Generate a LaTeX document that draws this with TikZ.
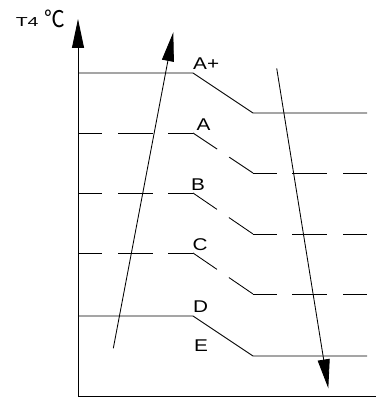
\documentclass[tikz,border=0pt]{standalone}
\usepackage{fontspec}
\setmainfont{Liberation Sans}
\newfontfamily\cjkfont{Noto Sans CJK SC}
\usetikzlibrary{arrows.meta}
\begin{document}
\begin{tikzpicture}[x=1pt,y=-1pt,
  ln/.style={line width=0.85pt,black},
  leftdash/.style={ln,dash pattern=on 24pt off 16pt on 35pt off 15pt on 25pt off 20pt},
  diagdash/.style={ln,dash pattern=on 29pt off 14.5pt on 29pt off 20pt},
  rightdash/.style={ln,dash pattern=on 24pt off 15pt on 35pt off 16pt on 24pt off 20pt},
  bigtip/.style={-{Triangle[length=29pt,width=12pt]}},
  lbl/.style={inner sep=0pt,anchor=base west,font=\fontsize{17}{17}\selectfont,xscale=1.22}]
\useasboundingbox (0,0) rectangle (376,398);
% axes
\coordinate (O) at (78,397);
\coordinate (Ytop) at (78,19);
\coordinate (Xend) at (376,396.5);
\draw[ln,bigtip] (O) -- (Ytop);
\draw[ln] (78,396.5) -- (Xend);
\node[inner sep=0pt,anchor=base west,font=\fontsize{13}{13}\selectfont,xscale=1.5] (T4) at (15.5,26.8) {T4};
\node[inner sep=0pt,anchor=base west,font=\cjkfont\fontsize{23}{23}\selectfont,xscale=0.9] (deg) at (44.5,28) {℃};
% levels
\foreach \n/\yl/\yr in {Ap/73/113, D/316/356}{
  \coordinate (\n1) at (78,\yl);
  \coordinate (\n2) at (193,\yl);
  \coordinate (\n3) at (253,\yr);
  \coordinate (\n4) at (367,\yr);
  \draw[ln] (\n1) -- (\n2) -- (\n3) -- (\n4);
}
\foreach \n/\yl/\yr in {A/133/173, B/193/234, C/253/294}{
  \coordinate (\n1) at (78,\yl);
  \coordinate (\n2) at (193,\yl);
  \coordinate (\n3) at (253,\yr);
  \coordinate (\n4) at (367,\yr);
  \draw[leftdash] (\n1) -- (\n2);
  \draw[diagdash] (\n2) -- (\n3);
  \draw[rightdash] (\n3) -- (\n4);
}
% labels
\node[lbl] (lAp) at (193,70) {A+};
\node[lbl] (lA) at (196.5,131) {A};
\node[lbl] (lB) at (191,190) {B};
\node[lbl] (lC) at (192.5,250) {C};
\node[lbl] (lD) at (193,312) {D};
\node[lbl] (lE) at (194,351) {E};
% arrows
\coordinate (u1) at (113.3,348.3);
\coordinate (u2) at (173.3,32.3);
\draw[ln,bigtip] (u1) -- (u2);
\coordinate (d1) at (276.7,68.3);
\coordinate (d2) at (328.3,388.3);
\draw[ln,bigtip] (d1) -- (d2);
\end{tikzpicture}
\end{document}
